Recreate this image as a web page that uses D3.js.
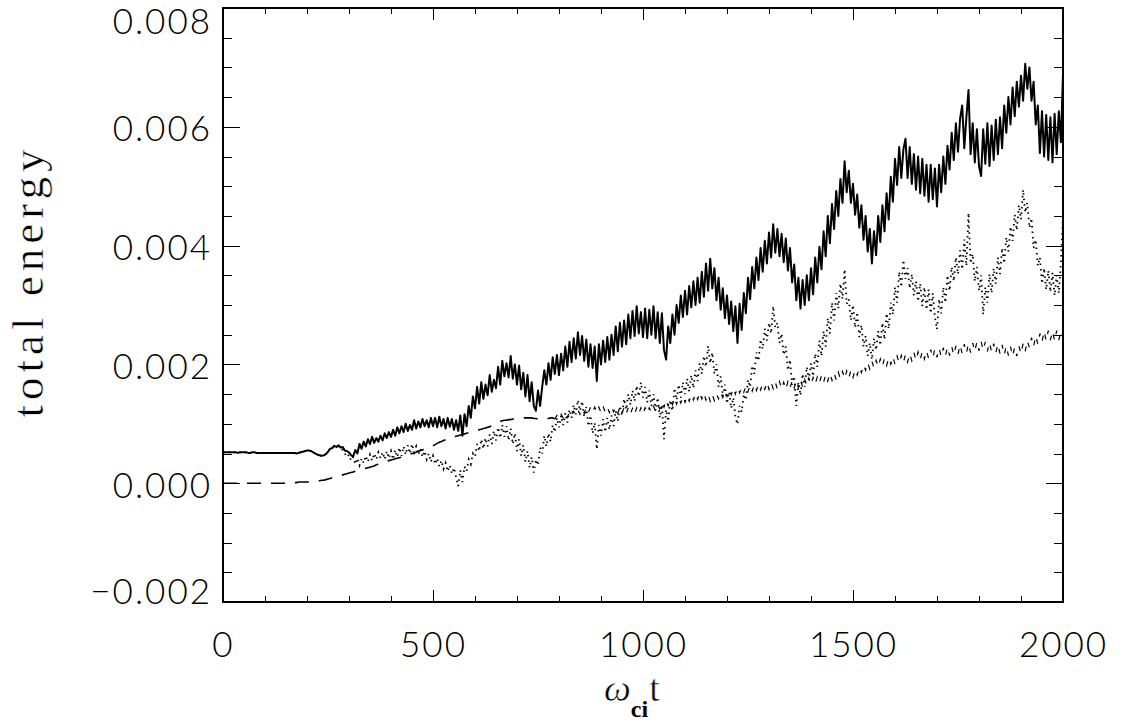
<!DOCTYPE html>
<html>
<head>
<meta charset="utf-8">
<title>total energy</title>
<script src="https://cdn.jsdelivr.net/npm/d3@7"></script>
<style>
  body { margin: 0; background: #fff; }
  svg { display: block; }
  .tick text { font-family: Lato, "DejaVu Sans", sans-serif; font-weight: 300; font-size: 35px; letter-spacing: 2px; fill: #000; }
  .tick line { stroke: #000; }
  .title { font-family: "Liberation Serif", serif; fill: #000; stroke: #fff; stroke-width: 0.5px; }
</style>
</head>
<body>
<div id="chart"></div>
<script>
// energy values are in units of 1e-3, sampled every 5 (omega_ci t)
const step = 5;
const solidValues = [
  0.52,0.52,0.52,0.52,0.52,0.52,0.52,0.51,0.52,0.52,0.52,0.52,0.51,0.51,0.52,0.52,0.51,0.51,0.51,0.51,
  0.51,0.51,0.51,0.51,0.51,0.51,0.51,0.51,0.51,0.51,0.51,0.51,0.51,0.51,0.51,0.50,0.51,0.52,0.53,0.54,
  0.55,0.55,0.54,0.52,0.50,0.48,0.47,0.46,0.47,0.49,0.53,0.58,0.59,0.63,0.61,0.64,0.60,0.61,0.55,0.54,
  0.52,0.47,0.45,0.56,0.50,0.66,0.58,0.70,0.62,0.74,0.66,0.78,0.68,0.76,0.70,0.80,0.72,0.84,0.76,0.86,
  0.78,0.90,0.80,0.94,0.84,0.96,0.86,1.00,0.88,0.98,0.90,1.06,0.92,1.04,0.94,1.08,0.96,1.06,0.94,1.10,
  0.96,1.10,0.94,1.12,0.96,1.08,0.92,1.10,0.95,1.08,0.90,1.06,0.88,1.14,0.80,1.16,0.96,1.30,1.10,1.46,
  1.26,1.62,1.34,1.70,1.42,1.66,1.48,1.82,1.54,1.74,1.60,1.96,1.66,2.06,1.80,2.02,1.78,2.14,1.76,2.00,
  1.66,1.98,1.58,1.86,1.46,1.82,1.38,1.70,1.30,1.22,1.56,1.30,1.62,1.90,1.66,2.02,1.74,2.12,1.84,2.16,
  1.82,2.18,1.90,2.30,1.96,2.38,2.04,2.44,2.10,2.54,2.16,2.48,2.06,2.42,1.96,2.34,1.94,2.30,1.72,2.34,
  2.00,2.40,2.04,2.46,2.08,2.50,2.16,2.64,2.22,2.70,2.30,2.74,2.34,2.84,2.44,2.90,2.48,2.98,2.52,2.88,
  2.46,2.94,2.44,2.92,2.50,2.98,2.44,2.88,2.36,2.86,2.24,2.08,2.64,2.36,2.84,2.50,3.00,2.70,3.16,2.80,
  3.24,2.84,3.32,2.96,3.40,3.00,3.46,3.04,3.56,3.14,3.70,3.24,3.78,3.28,3.62,3.08,3.46,2.92,3.28,2.78,
  3.16,2.68,3.06,2.56,2.98,2.36,3.02,2.58,3.20,2.86,3.46,3.10,3.64,3.28,3.80,3.42,3.96,3.56,4.08,3.70,
  4.22,3.80,4.36,3.88,4.28,3.82,4.20,3.72,4.12,3.58,3.96,3.38,3.68,3.08,3.46,2.94,3.42,3.00,3.50,3.08,
  3.62,3.18,3.80,3.38,3.98,3.60,4.24,3.82,4.50,4.04,4.70,4.28,4.92,4.50,5.12,4.72,5.42,4.90,5.26,4.72,
  5.04,4.52,4.86,4.30,4.68,4.10,4.50,3.90,4.28,3.70,4.24,3.84,4.50,4.06,4.68,4.24,4.88,4.44,5.16,4.74,
  5.46,5.02,5.66,5.14,5.62,5.80,5.14,5.66,5.04,5.54,4.94,5.50,4.88,5.46,4.84,5.36,4.74,5.36,4.78,5.30,
  4.66,5.36,4.90,5.50,5.04,5.68,5.28,5.90,5.44,6.06,5.58,6.14,6.36,5.64,6.16,6.62,5.54,6.06,5.40,5.96,
  5.34,5.17,5.96,5.38,6.06,5.34,6.02,5.44,6.12,5.54,6.16,5.64,6.36,5.90,6.50,6.04,6.66,6.18,6.76,6.34,
  6.86,6.44,7.06,6.64,7.00,6.44,6.76,6.04,6.36,5.56,6.26,5.50,6.20,5.44,6.16,5.40,6.22,5.54,6.26,5.74,
  6.90
];
const dottedValues = [
  0.52,0.52,0.52,0.52,0.52,0.52,0.52,0.51,0.52,0.52,0.52,0.52,0.51,0.51,0.52,0.52,0.51,0.51,0.51,0.51,
  0.51,0.51,0.51,0.51,0.51,0.51,0.51,0.51,0.51,0.51,0.51,0.51,0.51,0.51,0.51,0.50,0.51,0.52,0.53,0.54,
  0.55,0.55,0.54,0.52,0.50,0.48,0.47,0.46,0.47,0.49,0.53,0.58,0.59,0.63,0.61,0.62,0.58,0.56,0.50,0.44,
  0.48,0.38,0.44,0.32,0.42,0.30,0.42,0.34,0.46,0.36,0.48,0.38,0.50,0.40,0.52,0.42,0.52,0.40,0.54,0.42,
  0.54,0.40,0.56,0.44,0.60,0.46,0.62,0.48,0.64,0.50,0.66,0.52,0.62,0.48,0.58,0.44,0.54,0.40,0.50,0.36,
  0.46,0.32,0.42,0.28,0.38,0.24,0.34,0.20,0.30,0.16,0.26,0.10,-0.05,0.22,0.02,0.28,0.20,0.40,0.32,0.50,
  0.44,0.66,0.54,0.74,0.58,0.76,0.62,0.82,0.66,0.88,0.72,0.94,0.76,0.98,0.78,0.96,0.72,0.92,0.66,0.84,
  0.54,0.74,0.46,0.64,0.36,0.54,0.26,0.44,0.18,0.40,0.30,0.60,0.50,0.80,0.62,0.84,0.70,0.98,0.86,1.10,
  0.94,1.14,0.98,1.18,1.02,1.24,1.10,1.32,1.16,1.40,1.22,1.38,1.12,1.28,0.96,1.14,0.84,1.02,0.57,0.98,
  0.80,1.08,0.86,1.10,0.90,1.14,0.96,1.22,1.04,1.30,1.14,1.42,1.24,1.50,1.32,1.56,1.38,1.64,1.46,1.70,
  1.44,1.62,1.36,1.56,1.30,1.50,1.22,1.44,1.10,1.32,0.74,1.24,1.04,1.40,1.22,1.60,1.40,1.66,1.44,1.70,
  1.50,1.76,1.54,1.82,1.60,1.90,1.72,2.02,1.84,2.14,1.96,2.31,2.02,2.20,1.84,2.00,1.62,1.80,1.46,1.66,
  1.34,1.54,1.26,1.44,1.12,0.99,1.30,1.20,1.50,1.40,1.74,1.62,1.98,1.84,2.20,2.06,2.42,2.26,2.60,2.40,
  2.70,2.52,2.98,2.62,2.70,2.36,2.52,2.16,2.30,1.90,2.08,1.66,1.80,1.30,1.70,1.48,1.84,1.62,1.96,1.74,
  2.02,1.80,2.18,1.96,2.40,2.14,2.56,2.30,2.78,2.52,3.04,2.74,3.20,2.94,3.36,3.10,3.60,3.02,3.10,2.74,
  3.00,2.62,2.88,2.46,2.66,2.30,2.48,2.14,2.36,2.08,2.44,2.24,2.56,2.32,2.70,2.42,2.86,2.60,3.04,2.84,
  3.30,3.04,3.56,3.30,3.76,3.44,3.62,3.28,3.52,3.16,3.40,3.06,3.36,2.98,3.30,2.92,3.26,2.86,3.20,2.80,
  2.59,3.10,2.86,3.30,3.04,3.50,3.24,3.64,3.40,3.80,3.52,3.92,3.60,4.10,3.66,4.55,3.70,3.86,3.40,3.64,
  3.24,3.50,2.84,3.30,3.04,3.52,3.20,3.62,3.36,3.80,3.52,3.96,3.70,4.14,3.90,4.32,4.08,4.52,4.26,4.68,
  4.44,4.94,4.56,4.72,4.30,4.46,3.96,4.10,3.66,3.80,3.36,3.62,3.26,3.58,3.22,3.54,3.16,3.50,3.20,3.70,
  4.50
];
const dashedValues = [
  0.00,0.00,0.00,0.00,0.00,0.00,0.00,0.00,0.00,0.00,0.00,0.00,0.00,0.00,0.00,0.00,0.00,0.00,0.00,0.00,
  0.00,0.00,0.00,0.00,0.00,0.00,0.00,0.00,0.00,0.00,0.00,0.01,0.01,0.01,0.01,0.01,0.02,0.02,0.02,0.02,
  0.02,0.02,0.03,0.03,0.03,0.04,0.04,0.05,0.05,0.06,0.07,0.08,0.09,0.10,0.11,0.12,0.13,0.14,0.15,0.16,
  0.17,0.18,0.19,0.20,0.21,0.22,0.23,0.24,0.25,0.26,0.27,0.28,0.29,0.31,0.32,0.33,0.34,0.35,0.37,0.38,
  0.39,0.40,0.41,0.42,0.43,0.44,0.45,0.46,0.48,0.49,0.50,0.51,0.52,0.54,0.55,0.56,0.58,0.59,0.60,0.62,
  0.63,0.65,0.67,0.69,0.70,0.72,0.73,0.75,0.76,0.77,0.78,0.79,0.80,0.81,0.82,0.83,0.84,0.85,0.86,0.87,
  0.88,0.89,0.90,0.91,0.92,0.93,0.94,0.95,0.97,0.99,1.01,1.03,1.04,1.05,1.06,1.06,1.07,1.07,1.08,1.08,
  1.08,1.09,1.09,1.10,1.10,1.10,1.10,1.10,1.09,1.09,1.08,1.08,1.08,1.08,1.09,1.09,1.10,1.10,1.08,1.14,
  1.08,1.16,1.10,1.18,1.11,1.19,1.13,1.21,1.15,1.23,1.16,1.25,1.18,1.27,1.19,1.28,1.20,1.28,1.19,1.28,
  1.19,1.29,1.20,1.28,1.19,1.29,1.20,1.28,1.18,1.28,1.19,1.27,1.17,1.27,1.17,1.26,1.16,1.27,1.17,1.27,
  1.17,1.27,1.18,1.27,1.19,1.29,1.22,1.32,1.25,1.36,1.28,1.40,1.30,1.41,1.32,1.43,1.33,1.44,1.35,1.46,
  1.36,1.47,1.38,1.49,1.40,1.51,1.41,1.53,1.42,1.52,1.40,1.50,1.38,1.49,1.39,1.50,1.42,1.53,1.44,1.55,
  1.46,1.57,1.49,1.60,1.50,1.61,1.52,1.62,1.53,1.64,1.54,1.65,1.55,1.66,1.56,1.67,1.57,1.68,1.58,1.70,
  1.58,1.70,1.59,1.70,1.58,1.71,1.59,1.70,1.58,1.71,1.60,1.72,1.60,1.73,1.61,1.74,1.62,1.75,1.64,1.77,
  1.66,1.78,1.67,1.79,1.69,1.81,1.70,1.83,1.72,1.85,1.73,1.85,1.74,1.87,1.76,1.88,1.76,1.89,1.77,1.90,
  1.78,1.91,1.82,1.95,1.86,1.99,1.90,2.03,1.92,2.05,1.94,2.07,1.96,2.09,1.97,2.10,1.98,2.11,2.00,2.13,
  2.00,2.14,2.02,2.15,2.03,2.17,2.04,2.18,2.06,2.20,2.07,2.21,2.08,2.22,2.09,2.23,2.10,2.25,2.11,2.26,
  2.12,2.27,2.13,2.28,2.14,2.29,2.15,2.30,2.16,2.31,2.17,2.33,2.18,2.34,2.19,2.35,2.20,2.36,2.22,2.38,
  2.23,2.39,2.24,2.38,2.22,2.37,2.21,2.35,2.19,2.34,2.18,2.33,2.16,2.31,2.15,2.30,2.14,2.29,2.14,2.31,
  2.18,2.35,2.22,2.40,2.28,2.45,2.30,2.48,2.34,2.52,2.38,2.56,2.40,2.57,2.41,2.56,2.40,2.57,2.41,2.56,
  2.45
];
const xTicks = [0, 500, 1000, 1500, 2000];
const xTickLabels = ["0", "500", "1000", "1500", "2000"];
const yTicks = [-0.002, 0, 0.002, 0.004, 0.006, 0.008];
const yTickLabels = ["\u22120.002", "0.000", "0.002", "0.004", "0.006", "0.008"];

const width = 1127, height = 724;
const margin = { top: 8, right: 64, bottom: 122, left: 223 };
const w = width - margin.left - margin.right;
const h = height - margin.top - margin.bottom;

const time = d3.range(0, 2000 + step, step);
const noisyFrom = 158; // index where the dashed curve turns noisy (t = 790)

const x = d3.scaleLinear().domain([0, 2000]).range([0, w]);
const y = d3.scaleLinear().domain([-0.002, 0.008]).range([h, 0]);

const xMinor = d3.range(0, 2001, 100).filter(d => d % 500 !== 0);
const yMinor = d3.range(-4, 17).map(d => d * 0.0005).filter((d, i) => i % 4 !== 0);

const svg = d3.select("#chart").append("svg")
  .attr("width", width)
  .attr("height", height);

const g = svg.append("g")
  .attr("transform", "translate(" + margin.left + "," + margin.top + ")");

function addAxis(axis, tx, ty) {
  const a = g.append("g")
    .attr("transform", "translate(" + tx + "," + ty + ")")
    .attr("shape-rendering", "crispEdges")
    .call(axis);
  a.select(".domain").remove();
  return a;
}

// left / right
const left = addAxis(d3.axisLeft(y).tickValues(yTicks).tickSizeInner(-17).tickSizeOuter(0)
  .tickFormat((d, i) => yTickLabels[i]), 0, 0);
left.selectAll(".tick text")
  .attr("text-anchor", "end")
  .attr("x", -11)
  .attr("dy", (d, i) => i === 0 ? "0.05em" : (i === yTicks.length - 1 ? "0.72em" : "0.40em"));
addAxis(d3.axisLeft(y).tickValues(yMinor).tickSize(-9).tickFormat(""), 0, 0);
addAxis(d3.axisRight(y).tickValues(yTicks).tickSize(-17).tickFormat(""), w, 0);
addAxis(d3.axisRight(y).tickValues(yMinor).tickSize(-9).tickFormat(""), w, 0);

// bottom / top
const bottom = addAxis(d3.axisBottom(x).tickValues(xTicks).tickSizeInner(-12).tickSizeOuter(0)
  .tickFormat((d, i) => xTickLabels[i]), 0, h);
bottom.selectAll(".tick text").attr("y", 55).attr("dy", 0);
addAxis(d3.axisBottom(x).tickValues(xMinor).tickSize(-6).tickFormat(""), 0, h);
addAxis(d3.axisTop(x).tickValues(xTicks).tickSize(-12).tickFormat(""), 0, 0);
addAxis(d3.axisTop(x).tickValues(xMinor).tickSize(-6).tickFormat(""), 0, 0);

g.append("rect")
  .attr("width", w)
  .attr("height", h)
  .attr("fill", "none")
  .attr("stroke", "#000")
  .attr("stroke-width", 1.2)
  .attr("shape-rendering", "crispEdges");

const line = d3.line()
  .x(d => x(d[0]))
  .y(d => y(d[1] * 1e-3));

const pairs = vals => vals.map((v, i) => [time[i], v]);

// dashed: long dashes while smooth, short marks once noisy
g.append("path")
  .datum(pairs(dashedValues).slice(0, noisyFrom + 1))
  .attr("d", line)
  .attr("fill", "none")
  .attr("stroke", "#000")
  .attr("stroke-width", 1.6)
  .attr("stroke-dasharray", "14,10");

g.append("path")
  .datum(pairs(dashedValues).slice(noisyFrom))
  .attr("d", line)
  .attr("fill", "none")
  .attr("stroke", "#000")
  .attr("stroke-width", 1.2)
  .attr("stroke-dasharray", "5,8");

g.append("path")
  .datum(pairs(dottedValues))
  .attr("d", line)
  .attr("fill", "none")
  .attr("stroke", "#000")
  .attr("stroke-width", 1.8)
  .attr("stroke-dasharray", "1.5,4");

g.append("path")
  .datum(pairs(solidValues))
  .attr("d", line)
  .attr("fill", "none")
  .attr("stroke", "#000")
  .attr("stroke-width", 2)
  .attr("stroke-linejoin", "round");

// axis titles
svg.append("text")
  .attr("class", "title")
  .attr("transform", "translate(43,281) rotate(-90)")
  .attr("text-anchor", "middle")
  .attr("font-size", 45)
  .attr("letter-spacing", 5)
  .text("total energy");

const xt = svg.append("text")
  .attr("class", "title")
  .attr("x", 604)
  .attr("y", 701)
  .attr("font-size", 38);
xt.append("tspan").attr("font-style", "italic").text("\u03c9");
xt.append("tspan").attr("font-size", 24).attr("font-weight", "bold").attr("stroke", "none").attr("dy", 16).text("ci");
xt.append("tspan").attr("dy", -16).attr("dx", 1).text("t");
</script>
</body>
</html>
